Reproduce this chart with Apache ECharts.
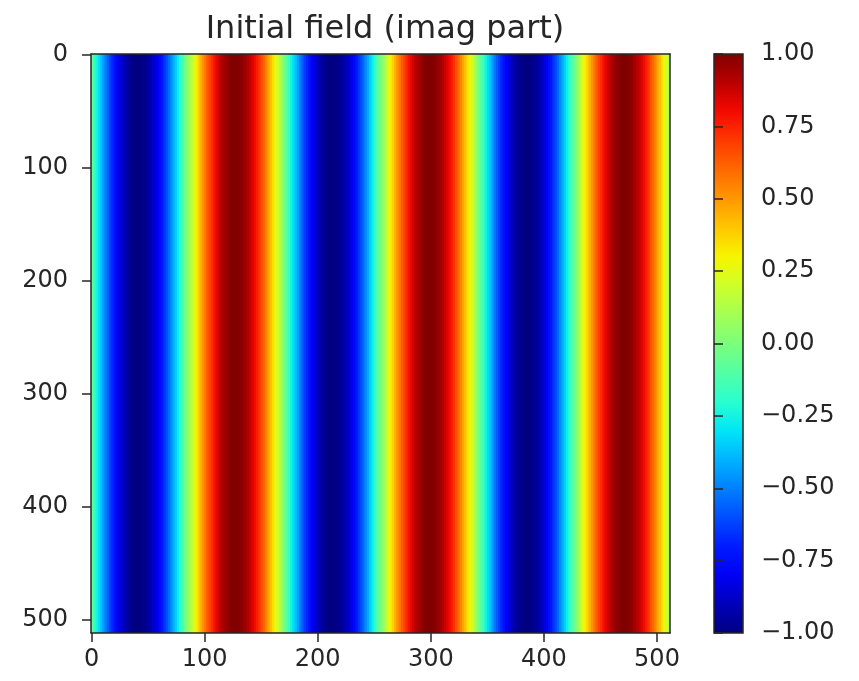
<!DOCTYPE html>
<html><head><meta charset="utf-8">
<script src="https://cdn.jsdelivr.net/npm/echarts@6/dist/echarts.min.js"></script>
<style>html,body{margin:0;padding:0;background:#fff}#chart{width:859px;height:681px}</style>
</head><body><div id="chart"></div>
<script>
// ---- data ----
const titleText = 'Initial field (imag part)';
const rowCount = 512;          // image rows (y from 0 to 511)
const columnWidth = 2;         // image columns covered by each value below
// imaginary part per column group (constant down each column), left to right
const imagValues = [
  -0.09,-0.16,-0.24,-0.31,-0.37,-0.44,-0.51,-0.57,-0.63,-0.68,-0.73,-0.78,-0.82,-0.86,-0.90,-0.93,-0.95,-0.97,-0.99,-1.00,-1.00,-1.00,-0.99,-0.98,-0.96,-0.94,-0.91,-0.88,-0.84,-0.80,-0.76,-0.71,-0.65,-0.60,-0.54,-0.47,-0.41,-0.34,-0.27,-0.20,-0.13,-0.05,0.02,
  0.09,0.16,0.24,0.31,0.37,0.44,0.51,0.57,0.63,0.68,0.73,0.78,0.82,0.86,0.90,0.93,0.95,0.97,0.99,1.00,1.00,1.00,0.99,0.98,0.96,0.94,0.91,0.88,0.84,0.80,0.76,0.71,0.65,0.60,0.54,0.47,0.41,0.34,0.27,0.20,0.13,0.05,-0.02,
  -0.09,-0.16,-0.24,-0.31,-0.37,-0.44,-0.51,-0.57,-0.63,-0.68,-0.73,-0.78,-0.82,-0.86,-0.90,-0.93,-0.95,-0.97,-0.99,-1.00,-1.00,-1.00,-0.99,-0.98,-0.96,-0.94,-0.91,-0.88,-0.84,-0.80,-0.76,-0.71,-0.65,-0.60,-0.54,-0.47,-0.41,-0.34,-0.27,-0.20,-0.13,-0.05,0.02,
  0.09,0.16,0.24,0.31,0.37,0.44,0.51,0.57,0.63,0.68,0.73,0.78,0.82,0.86,0.90,0.93,0.95,0.97,0.99,1.00,1.00,1.00,0.99,0.98,0.96,0.94,0.91,0.88,0.84,0.80,0.76,0.71,0.65,0.60,0.54,0.47,0.41,0.34,0.27,0.20,0.13,0.05,-0.02,
  -0.09,-0.16,-0.24,-0.31,-0.37,-0.44,-0.51,-0.57,-0.63,-0.68,-0.73,-0.78,-0.82,-0.86,-0.90,-0.93,-0.95,-0.97,-0.99,-1.00,-1.00,-1.00,-0.99,-0.98,-0.96,-0.94,-0.91,-0.88,-0.84,-0.80,-0.76,-0.71,-0.65,-0.60,-0.54,-0.47,-0.41,-0.34,-0.27,-0.20,-0.13,-0.05,0.02,
  0.09,0.16,0.24,0.31,0.37,0.44,0.51,0.57,0.63,0.68,0.73,0.78,0.82,0.86,0.90,0.93,0.95,0.97,0.99,1.00,1.00,1.00,0.99,0.98,0.96,0.94,0.91,0.88,0.84,0.80,0.76,0.71,0.65,0.60,0.54,0.47,0.41,0.34,0.27,0.20,0.13
];
const xTicks = [0, 100, 200, 300, 400, 500];
const yTicks = [0, 100, 200, 300, 400, 500];
const colorbarTicks = [-1, -0.75, -0.5, -0.25, 0, 0.25, 0.5, 0.75, 1];
const colorMin = -1, colorMax = 1;

// ---- style (jet colormap) ----
const jetColors = ['#000080','#0000b9','#0000f4','#001aff','#004dff','#0080ff','#00b3ff','#00e6f7','#29ffce','#52ffa4','#7bff7b','#a4ff52','#ceff29','#f7f500','#ffc600','#ff9700','#ff6800','#ff3900','#f40900','#b90000','#800000'];
const ink = '#262626';
const font = 'DejaVu Sans';
const spine = { color: ink, width: 1.5 };

const xMin = -0.5, xMax = imagValues.length * columnWidth - 0.5;
const yMin = -0.5, yMax = rowCount - 0.5;
const fieldData = imagValues.map((v, i) => [i * columnWidth - 0.5, (i + 1) * columnWidth - 0.5, v]);
const fmtCb = v => (v < 0 ? '\u2212' : '') + Math.abs(v).toFixed(2);

const chart = echarts.init(document.getElementById('chart'), null, { renderer: 'canvas' });
const labelStyle = { fontSize: 24, color: ink, fontFamily: font };

chart.setOption({
  backgroundColor: '#fff',
  animation: false,
  title: {
    text: titleText, left: 380, top: 9, textAlign: 'center',
    textStyle: { fontSize: 32, fontWeight: 'normal', color: ink, fontFamily: font }
  },
  grid: [
    { left: 91, top: 54, width: 579, height: 579 },
    { left: 714, top: 54, width: 29, height: 579 }
  ],
  xAxis: [
    { gridIndex: 0, type: 'value', min: xMin, max: xMax, position: 'bottom', z: 10,
      axisLine: { show: true, onZero: false, lineStyle: spine },
      axisTick: { show: true, customValues: xTicks, length: 9, lineStyle: spine },
      axisLabel: Object.assign({ customValues: xTicks, margin: 15 }, labelStyle),
      splitLine: { show: false } },
    { gridIndex: 0, type: 'value', min: xMin, max: xMax, position: 'top', z: 10,
      axisLine: { show: true, onZero: false, lineStyle: spine },
      axisTick: { show: false }, axisLabel: { show: false }, splitLine: { show: false } },
    { gridIndex: 1, type: 'value', min: 0, max: 1, show: false }
  ],
  yAxis: [
    { gridIndex: 0, type: 'value', min: yMin, max: yMax, inverse: true, position: 'left', z: 10,
      axisLine: { show: true, onZero: false, lineStyle: spine },
      axisTick: { show: true, customValues: yTicks, length: 9, lineStyle: spine },
      axisLabel: Object.assign({ customValues: yTicks, margin: 23 }, labelStyle),
      splitLine: { show: false } },
    { gridIndex: 0, type: 'value', min: yMin, max: yMax, inverse: true, position: 'right', z: 10,
      axisLine: { show: true, onZero: false, lineStyle: spine },
      axisTick: { show: false }, axisLabel: { show: false }, splitLine: { show: false } },
    { gridIndex: 1, type: 'value', min: colorMin, max: colorMax, position: 'right', z: 10,
      axisLine: { show: false },
      axisTick: { show: true, customValues: colorbarTicks, length: 9, lineStyle: spine },
      axisLabel: Object.assign({ customValues: colorbarTicks, margin: 18, formatter: fmtCb }, labelStyle),
      splitLine: { show: false } }
  ],
  visualMap: {
    type: 'continuous', show: false, min: colorMin, max: colorMax, dimension: 2, seriesIndex: 0,
    inRange: { color: jetColors }
  },
  series: [
    {
      type: 'custom', xAxisIndex: 0, yAxisIndex: 0, clip: true, data: fieldData,
      renderItem: (params, api) => {
        const a = api.coord([api.value(0), yMin]);
        const b = api.coord([api.value(1), yMax]);
        return {
          type: 'rect',
          shape: { x: Math.min(a[0], b[0]), y: Math.min(a[1], b[1]),
                   width: Math.abs(b[0] - a[0]) + 0.8, height: Math.abs(b[1] - a[1]) },
          style: { fill: api.visual('color') }
        };
      }
    },
    {
      type: 'custom', xAxisIndex: 2, yAxisIndex: 2, data: [[0, 1]],
      renderItem: (params, api) => {
        const a = api.coord([0, colorMax]);
        const b = api.coord([1, colorMin]);
        return {
          type: 'rect',
          shape: { x: a[0], y: a[1], width: b[0] - a[0], height: b[1] - a[1] },
          style: {
            fill: { type: 'linear', x: 0, y: 1, x2: 0, y2: 0,
                    colorStops: jetColors.map((c, k) => ({ offset: k / (jetColors.length - 1), color: c })) },
            stroke: ink, lineWidth: 1.5
          }
        };
      }
    }
  ]
});
</script>
</body></html>
